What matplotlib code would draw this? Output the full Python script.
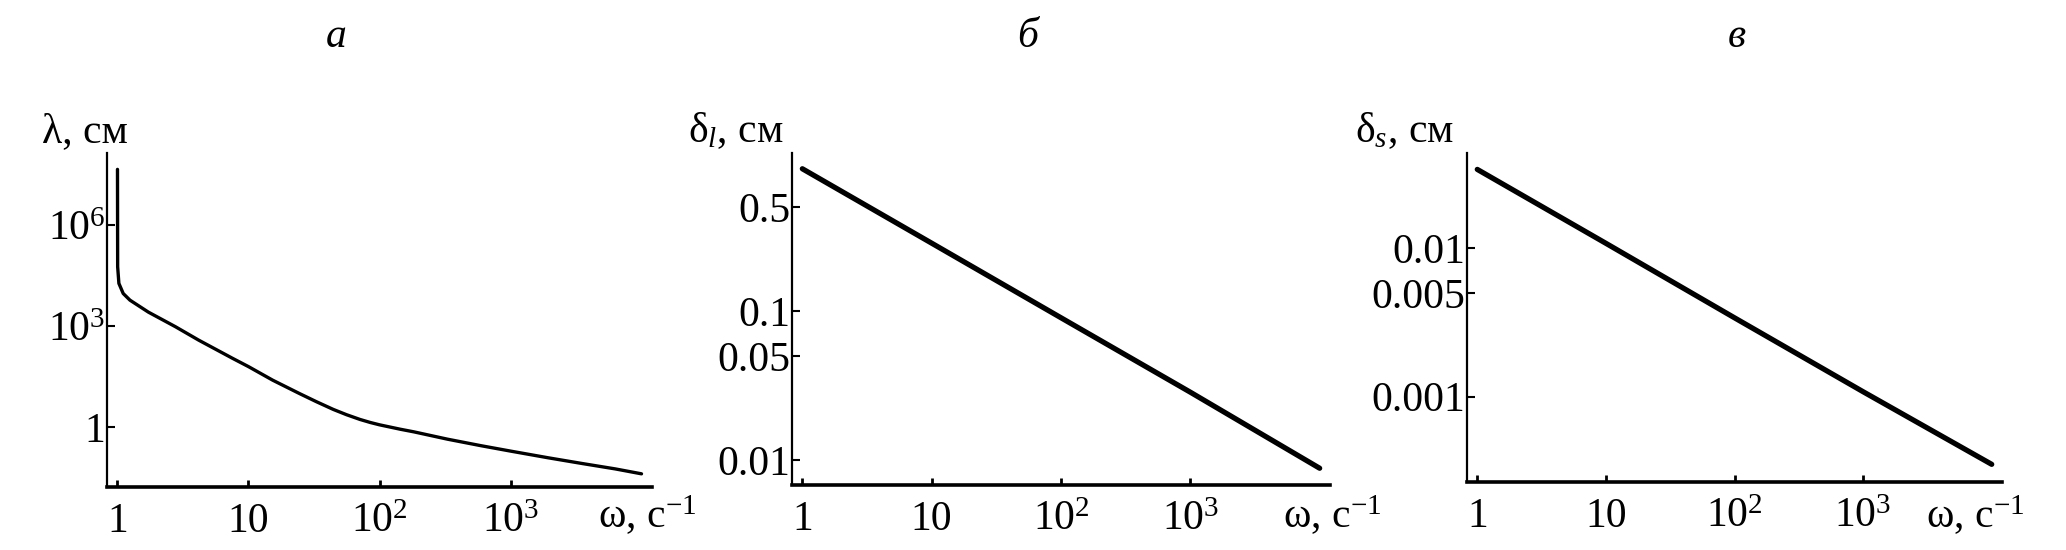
import numpy as np
import matplotlib
matplotlib.use("Agg")
import matplotlib.pyplot as plt
from matplotlib.ticker import FixedLocator, FixedFormatter, NullLocator

plt.rcParams['font.family'] = ['Liberation Serif', 'DejaVu Serif']
plt.rcParams['mathtext.fontset'] = 'custom'
plt.rcParams['mathtext.rm'] = 'Liberation Serif'
plt.rcParams['mathtext.it'] = 'Liberation Serif:italic'

# --- данные ---
omega_a = [1.0, 1.003, 1.025, 1.106, 1.245, 1.72, 2.77, 4.17, 7.54, 10, 15.3, 24.5,
           33, 44.4, 56, 71, 85, 100, 144, 183, 330, 595, 1000, 1940, 3530, 6310, 10000]
lambda_a = [4.6e7, 5.8e4, 1.86e4, 9.3e3, 5.9e3, 2.6e3, 955, 380, 110, 62, 24.5, 9.8,
            5.6, 3.3, 2.3, 1.66, 1.35, 1.15, 0.85, 0.71, 0.43, 0.275, 0.19, 0.12,
            0.081, 0.056, 0.040]

omega_b = [1, 10, 100, 1000, 10000]
delta_l = [0.9, 0.285, 0.09, 0.0285, 0.0088]

omega_c = [1, 10, 100, 1000, 10000]
delta_s = [0.034, 0.0108, 0.0034, 0.00108, 0.00035]

x_ticks = [1, 10, 100, 1000]
x_ticklabels = ['1', '10', '$10^{2}$', '$10^{3}$']
ya_ticks = [1, 1e3, 1e6]
ya_ticklabels = ['1', '$10^{3}$', '$10^{6}$']
yb_ticks = [0.01, 0.05, 0.1, 0.5]
yb_ticklabels = ['0.01', '0.05', '0.1', '0.5']
yc_ticks = [0.001, 0.005, 0.01]
yc_ticklabels = ['0.001', '0.005', '0.01']

titles = ['а', 'б', 'в']
ylabels = ['λ, см', 'δ$_{l}$, см', 'δ$_{s}$, см']
xlabel = 'ω, с$^{-1}$'

W, H = 2066, 550
fig = plt.figure(figsize=(W / 100, H / 100), dpi=100)


def box(left, right, top, bottom):
    return [left / W, 1 - bottom / H, (right - left) / W, (bottom - top) / H]


FS = 30

panels = [
    dict(rect=box(107, 652, 153, 487), x=omega_a, y=lambda_a, lw=2.4,
         ylim=(10 ** -1.79, 10 ** 8.15), yt=ya_ticks, ytl=ya_ticklabels,
         title_x=336, ylab_x=85, xlab_x=598),
    dict(rect=box(792, 1330, 153, 485), x=omega_b, y=delta_l, lw=3.8,
         ylim=(10 ** -2.168, 10 ** 0.06), yt=yb_ticks, ytl=yb_ticklabels,
         title_x=1028, ylab_x=736, xlab_x=1283),
    dict(rect=box(1467, 2002, 153, 482), x=omega_c, y=delta_s, lw=3.8,
         ylim=(10 ** -3.575, 10 ** -1.358), yt=yc_ticks, ytl=yc_ticklabels,
         title_x=1737, ylab_x=1404, xlab_x=1926),
]

for i, p in enumerate(panels):
    ax = fig.add_axes(p['rect'])
    ax.plot(p['x'], p['y'], color='black', lw=p['lw'], solid_capstyle='round',
            solid_joinstyle='round')
    ax.set_xscale('log')
    ax.set_yscale('log')
    ax.set_xlim(10 ** -0.08, 10 ** 4.08)
    ax.set_ylim(*p['ylim'])

    ax.spines['top'].set_visible(False)
    ax.spines['right'].set_visible(False)
    ax.spines['bottom'].set_linewidth(2.6)
    ax.spines['left'].set_linewidth(1.6)

    ax.xaxis.set_major_locator(FixedLocator(x_ticks))
    ax.xaxis.set_major_formatter(FixedFormatter(x_ticklabels))
    ax.xaxis.set_minor_locator(NullLocator())
    ax.yaxis.set_major_locator(FixedLocator(p['yt']))
    ax.yaxis.set_major_formatter(FixedFormatter(p['ytl']))
    ax.yaxis.set_minor_locator(NullLocator())

    ax.tick_params(axis='x', direction='in', length=5, width=2, pad=11, labelsize=FS)
    ax.tick_params(axis='y', direction='in', length=6, width=1.5, pad=1, labelsize=FS)

    fig.text(p['title_x'] / W, 1 - 37 / H, titles[i], fontsize=FS, style='italic',
             ha='center', va='center')
    fig.text(p['ylab_x'] / W, 1 - 142 / H, ylabels[i], fontsize=FS,
             ha='center', va='baseline')
    fig.text(p['xlab_x'] / W, 1 - 528 / H, xlabel, fontsize=FS,
             ha='left', va='baseline')

fig.savefig('out.png', dpi=100, facecolor='white')
